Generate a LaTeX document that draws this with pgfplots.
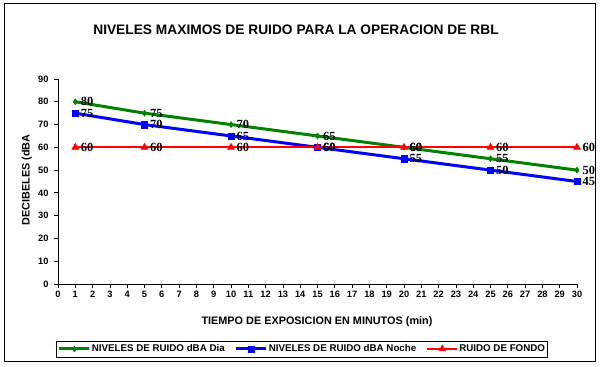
\documentclass[border=0pt]{standalone}
\usepackage{fontspec}
\setmainfont{Liberation Sans}
\newfontfamily\timesfont{Liberation Serif}
\usepackage{pgfplots}
\pgfplotsset{compat=1.18}
\definecolor{xgreen}{RGB}{0,128,0}
\definecolor{xblue}{RGB}{0,0,255}
\definecolor{xred}{RGB}{255,0,0}
\begin{document}
\begin{tikzpicture}[x=1bp,y=1bp]
\useasboundingbox (0,0) rectangle (600,366);
\draw[line width=1bp] (4,5) rectangle (595,362);
\node[font=\fontsize{13.8}{16}\selectfont\bfseries] at (296,336) {NIVELES MAXIMOS DE RUIDO PARA LA OPERACION DE RBL};
\begin{axis}[at={(58bp,82bp)}, anchor=south west, scale only axis,
  width=519bp, height=205bp,
  xmin=0, xmax=30, ymin=0, ymax=90,
  xtick={0,...,30}, ytick={0,10,...,90},
  axis lines=left, axis line style={-, line width=0.8bp},
  tick align=outside, major tick length=4bp,
  tick style={black, line width=0.8bp},
  ticklabel style={font=\fontsize{9.3}{10}\selectfont\bfseries},
  yticklabel style={xshift=-2bp},
  /pgf/number format/assume math mode=true,
  xlabel={TIEMPO DE EXPOSICION EN MINUTOS (min)},
  ylabel={DECIBELES (dBA},
  label style={font=\fontsize{10.9}{12}\selectfont\bfseries},
  xlabel style={at={(axis description cs:0.499,-0.185)}, anchor=center},
  ylabel style={at={(axis description cs:-0.06,0.507)}, anchor=center},
  clip=false,
  nodes near coords,
  nodes near coords style={font=\timesfont\fontsize{12.5}{14}\selectfont\bfseries, anchor=west, xshift=2bp, text=black},
  legend columns=3,
  legend style={at={(axis description cs:0.470,-0.317)}, anchor=center, draw=black,
    font=\fontsize{9.8}{11}\selectfont\bfseries, inner sep=1.5bp,
    /tikz/every even column/.append style={column sep=9bp},
    nodes={inner xsep=1bp}},
  legend image code/.code={\draw[mark repeat=2,mark phase=2] plot coordinates {(0bp,0bp) (15bp,0bp) (30bp,0bp)};},
]
\addplot[color=xgreen, line width=3bp, mark=diamond*, mark size=3bp, mark options={line width=0.5bp}] coordinates {(1,80) (5,75) (10,70) (15,65) (20,60) (25,55) (30,50)};
\addlegendentry{NIVELES DE RUIDO dBA Dia}
\addplot[color=xblue, line width=3bp, mark=square*, mark size=3.2bp, mark options={line width=0.5bp}] coordinates {(1,75) (5,70) (10,65) (15,60) (20,55) (25,50) (30,45)};
\addlegendentry{NIVELES DE RUIDO dBA Noche}
\addplot[color=xred, line width=2bp, mark=triangle*, mark size=4bp, mark options={line width=0.5bp}] coordinates {(1,60) (5,60) (10,60) (15,60) (20,60) (25,60) (30,60)};
\addlegendentry{RUIDO DE FONDO}
\end{axis}
\end{tikzpicture}
\end{document}
